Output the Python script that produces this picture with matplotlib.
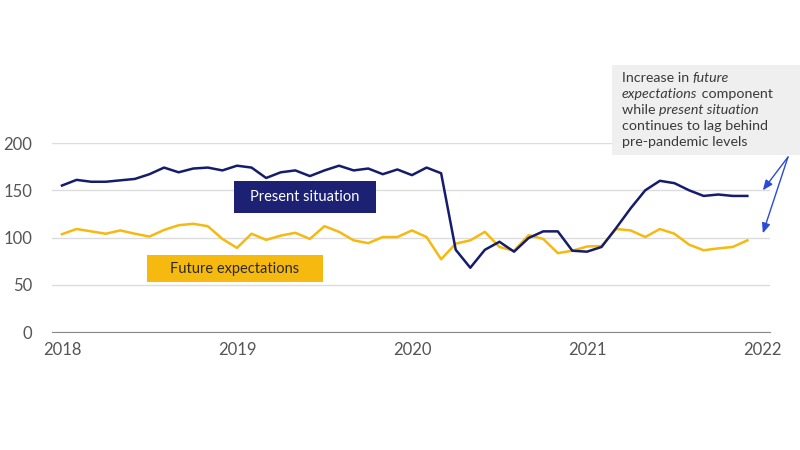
#!/usr/bin/python
import numpy as np
import matplotlib
matplotlib.use('Agg')
import matplotlib.pyplot as plt
from matplotlib.patches import Rectangle

#===============================
# monthly index values, Jan 2018 .. Dec 2021
years = [2018, 2019, 2020, 2021]
present = [155, 161, 159, 159, 160.5, 162, 167, 174, 169, 173, 174, 171,
           176, 174, 163, 169, 171, 165, 171, 176, 171, 173, 167, 172,
           166, 174, 168, 87, 68, 87, 95.5, 85, 99.5, 106.5, 106.5, 86,
           85, 90, 110, 131, 150, 160, 157.5, 150, 144, 145.5, 144, 144]
future = [103.5, 109, 106.5, 104, 107.5, 104, 101, 108, 113, 114.5, 112, 98.5,
          89, 104, 97.5, 102, 105, 98.5, 112, 106, 97, 94, 100.5, 100.5,
          107.5, 100.5, 77, 93.5, 97, 106, 90, 86, 102.5, 98.5, 83.5, 86,
          90.5, 91, 109, 107.5, 100.5, 109, 104, 92.5, 86.5, 88.5, 90, 97]
yticks = [0, 50, 100, 150, 200]
xticks = [2018, 2019, 2020, 2021, 2022]

NAVY = '#161c6c'
GOLD = '#f6b90f'
FONT = 'Lato'

#==================================
def RichLine(fig, x, y, pieces, size):
  # draw a line of text made of (string, italic) pieces, x/y in figure pixels
  r = fig.canvas.get_renderer()
  for s, it in pieces:
    t = fig.text(x / 800., 1 - y / 450., s, fontsize=size, family=FONT,
                 style='italic' if it else 'normal', color='#3a3a3a',
                 va='center', ha='left')
    bb = t.get_window_extent(renderer=r)
    x += bb.width
  return

def LabelBox(ax, x0, x1, y0, y1, fc, text, tc):
  ax.add_patch(Rectangle((x0, y0), x1 - x0, y1 - y0, fc=fc, ec='none', zorder=3))
  ax.text((x0 + x1) / 2., (y0 + y1) / 2., text, color=tc, fontsize=10.5,
          family=FONT, ha='center', va='center', zorder=4)
  return

#==================================
def DrawFig():
  months = []
  for yr in years:
    for m in range(12):
      months.append(yr + m / 12.)
  months = np.array(months)

  fig = plt.figure(figsize=(8, 4.5), dpi=100)
  ax = fig.add_axes([0.065, 0.2622, 0.8975, 0.42])
  ax.set_xlim(2017.943, 2022.046)
  ax.set_ylim(0, 200)
  ax.set_yticks(yticks)
  ax.set_xticks(xticks)
  ax.yaxis.grid(True, color='#dcdcdc', lw=1)
  ax.set_axisbelow(True)
  for sp in ['top', 'right', 'left']:
    ax.spines[sp].set_visible(False)
  ax.spines['bottom'].set_color('#8a8a8a')
  ax.tick_params(length=0, labelsize=12, labelcolor='#555555', pad=7)
  ax.tick_params(axis='y', pad=14)
  for lab in ax.get_xticklabels() + ax.get_yticklabels():
    lab.set_family(FONT)

  ax.plot(months, future, color=GOLD, lw=1.8, clip_on=False)
  ax.plot(months, present, color=NAVY, lw=1.8, clip_on=False)

  LabelBox(ax, 2018.983, 2019.794, 125.6, 159.4, '#1c2173', 'Present situation', 'white')
  LabelBox(ax, 2018.486, 2019.491, 52.8, 81.3, GOLD, 'Future expectations', '#2a2a2a')

  # annotation box
  fig.patches.append(Rectangle((612 / 800., 1 - 155 / 450.), 188 / 800., 90 / 450.,
                               transform=fig.transFigure, fc='#efefef', ec='none'))
  lines = [[('Increase in ', False), ('future', True)],
           [('expectations', True), (' component', False)],
           [('while ', False), ('present situation', True)],
           [('continues to lag behind', False)],
           [('pre-pandemic levels', False)]]
  for i, pc in enumerate(lines):
    RichLine(fig, 622, 78 + 16 * i, pc, 10.3)

  for tip in [150, 104.5]:
    ax.annotate('', xy=(2022.005, tip), xycoords='data',
                xytext=(788, 450 - 157), textcoords='figure pixels',
                arrowprops=dict(arrowstyle='-|>,head_length=0.6,head_width=0.25',
                                color='#2b4ad6', lw=1, shrinkA=0, shrinkB=0))

  plt.savefig('out.png', dpi=100)
  return

#==================================
def main():
  DrawFig()
  return

if __name__ == '__main__':
  main()
